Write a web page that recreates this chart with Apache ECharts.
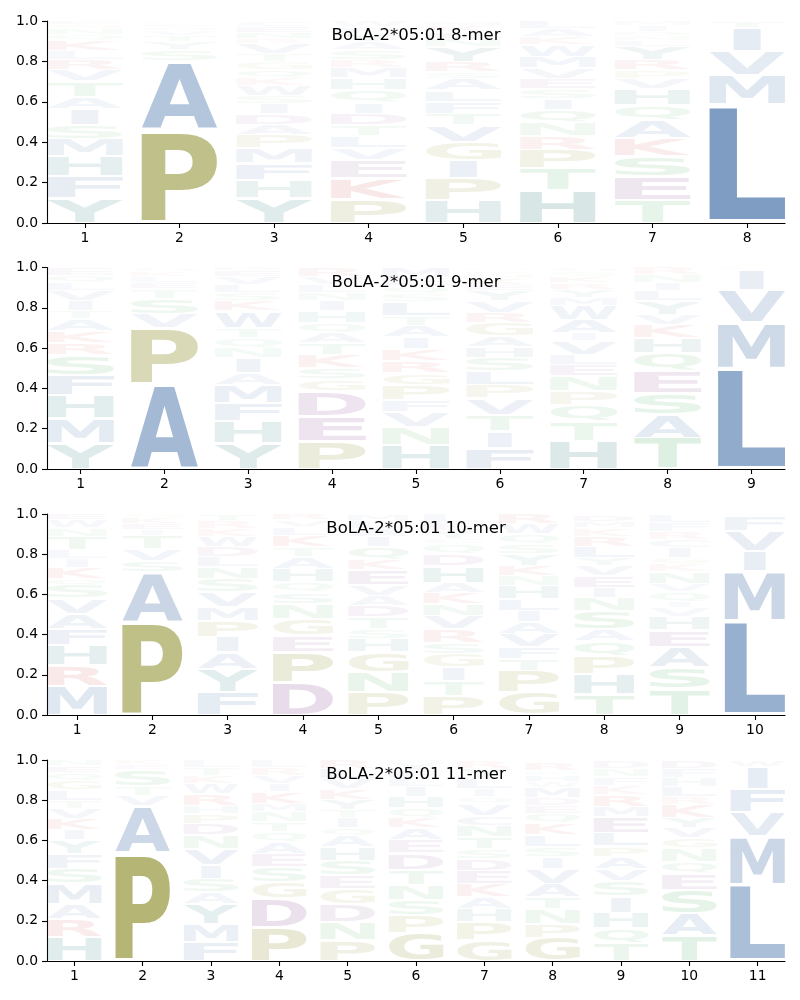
<!DOCTYPE html>
<html><head><meta charset="utf-8">
<script src="https://cdn.jsdelivr.net/npm/echarts@6/dist/echarts.min.js"></script>
<style>html,body{margin:0;padding:0;background:#fff}#c{width:800px;height:1000px}</style>
</head><body><div id="c"></div>
<script>
// ---- data: each column lists [letter, height] from bottom to top ----
const titles = ['BoLA-2*05:01 8-mer', 'BoLA-2*05:01 9-mer', 'BoLA-2*05:01 10-mer', 'BoLA-2*05:01 11-mer'];

const logo8 = [
  [['Y',.124],['F',.107],['H',.1],['M',.085],['S',.07],['I',.08],['A',.058],['T',.077],['V',.058],['R',.05],['L',.045],['K',.05],['Q',.03],['N',.03],['G',.02],['E',.016]],
  [['P',.46],['A',.34],['S',.055],['Y',.04],['T',.03],['V',.025],['G',.02],['E',.015],['K',.015]],
  [['Y',.124],['H',.09],['F',.082],['M',.074],['P',.066],['A',.05],['D',.054],['I',.05],['S',.04],['W',.05],['K',.038],['Q',.04],['G',.04],['T',.04],['V',.05],['R',.025],['N',.03],['E',.03],['C',.027]],
  [['P',.118],['K',.104],['E',.09],['V',.058],['L',.06],['T',.054],['D',.058],['I',.053],['Q',.063],['H',.06],['M',.05],['R',.04],['S',.05],['A',.04],['Y',.04],['F',.032],['W',.03]],
  [['H',.115],['P',.107],['I',.09],['G',.09],['V',.082],['T',.058],['F',.06],['L',.055],['A',.058],['S',.033],['R',.05],['Y',.075],['N',.04],['E',.035],['K',.03],['M',.022]],
  [['H',.16],['T',.11],['P',.094],['R',.066],['N',.066],['Q',.066],['I',.054],['S',.05],['E',.05],['V',.05],['M',.058],['W',.058],['K',.04],['A',.04],['L',.038]],
  [['T',.115],['E',.115],['S',.1],['K',.09],['A',.09],['Q',.074],['H',.082],['V',.05],['P',.04],['R',.05],['Y',.066],['L',.03],['N',.025],['D',.02],['I',.03],['M',.023]],
  [['L',.585],['M',.145],['V',.12],['I',.115],['T',.035]]
];

const logo9 = [
  [['Y',.13],['M',.12],['H',.116],['F',.1],['S',.1],['R',.06],['K',.06],['A',.058],['T',.04],['I',.05],['V',.05],['L',.04],['Q',.035],['E',.041]],
  [['A',.42],['P',.28],['V',.07],['S',.075],['T',.05],['E',.03],['L',.03],['K',.025],['G',.02]],
  [['Y',.13],['H',.108],['F',.09],['M',.09],['A',.058],['I',.075],['N',.05],['Q',.05],['T',.05],['W',.083],['K',.05],['S',.04],['L',.04],['V',.04],['E',.03],['D',.016]],
  [['P',.138],['E',.124],['D',.124],['G',.058],['S',.058],['K',.066],['T',.058],['A',.05],['Q',.05],['H',.058],['I',.05],['N',.04],['L',.04],['V',.04],['R',.047]],
  [['H',.12],['N',.09],['V',.075],['F',.058],['P',.075],['G',.058],['R',.06],['K',.06],['I',.058],['A',.058],['T',.05],['L',.066],['S',.04],['Q',.04],['E',.04],['M',.052]],
  [['F',.104],['I',.083],['T',.083],['V',.083],['P',.066],['L',.066],['S',.066],['H',.054],['A',.054],['G',.066],['R',.05],['V',.06],['Y',.05],['E',.03],['K',.03],['N',.025],['D',.015],['M',.014]],
  [['H',.14],['T',.096],['Q',.083],['P',.066],['N',.075],['E',.058],['L',.05],['V',.066],['I',.04],['A',.066],['W',.07],['M',.04],['Y',.04],['R',.035],['K',.03],['S',.025],['G',.02]],
  [['T',.154],['A',.116],['S',.108],['E',.108],['Q',.09],['H',.075],['K',.066],['V',.05],['Y',.066],['L',.05],['I',.04],['N',.04],['R',.037]],
  [['L',.5],['M',.225],['V',.165],['I',.1],['F',.01]]
];

const logo10 = [
  [['M',.146],['R',.1],['H',.1],['F',.083],['A',.075],['V',.075],['S',.066],['Q',.03],['K',.058],['I',.045],['L',.045],['T',.066],['N',.04],['W',.04],['E',.031]],
  [['P',.465],['A',.245],['S',.058],['V',.058],['T',.066],['I',.03],['E',.03],['K',.03],['G',.018]],
  [['F',.113],['Y',.116],['A',.083],['I',.078],['P',.08],['M',.066],['V',.075],['S',.066],['N',.058],['L',.05],['D',.05],['W',.05],['K',.04],['R',.04],['T',.035]],
  [['D',.163],['P',.15],['E',.083],['G',.083],['N',.075],['S',.058],['Q',.05],['H',.066],['A',.058],['T',.05],['K',.058],['L',.04],['V',.035],['R',.031]],
  [['P',.113],['N',.1],['G',.1],['H',.066],['S',.05],['T',.058],['D',.058],['A',.05],['V',.05],['E',.075],['K',.05],['Q',.066],['I',.05],['A',.04],['L',.04],['M',.034]],
  [['P',.096],['T',.075],['I',.066],['G',.066],['S',.058],['R',.066],['V',.066],['N',.058],['K',.058],['A',.05],['H',.083],['D',.058],['Q',.05],['C',.025],['Y',.04],['E',.04],['L',.045]],
  [['G',.113],['P',.108],['T',.058],['F',.058],['V',.066],['A',.058],['I',.058],['L',.058],['H',.066],['N',.05],['K',.05],['Y',.058],['S',.05],['Q',.05],['W',.05],['R',.05]],
  [['T',.104],['H',.1],['P',.09],['Q',.075],['A',.058],['S',.09],['N',.066],['I',.05],['E',.058],['V',.05],['Y',.04],['L',.058],['R',.05],['K',.04],['M',.034],['D',.034]],
  [['T',.13],['S',.108],['A',.1],['E',.083],['H',.066],['V',.045],['I',.03],['Q',.05],['V',.04],['N',.058],['K',.04],['G',.033],['I',.05],['C',.04],['R',.04],['F',.044],['L',.04]],
  [['L',.47],['M',.245],['I',.1],['V',.1],['F',.075],['W',.01]]
];

const logo11 = [
  [['H',.12],['R',.09],['A',.075],['M',.1],['S',.075],['F',.075],['Y',.066],['I',.05],['K',.058],['V',.05],['T',.04],['L',.05],['G',.05],['Q',.035],['E',.035],['N',.03]],
  [['P',.54],['A',.23],['V',.05],['T',.05],['S',.08],['E',.025],['K',.025]],
  [['F',.096],['M',.09],['Y',.1],['A',.058],['S',.066],['I',.066],['V',.083],['N',.066],['D',.058],['P',.05],['H',.04],['R',.058],['W',.05],['K',.04],['T',.04],['L',.036]],
  [['P',.17],['D',.14],['G',.083],['S',.075],['E',.066],['A',.058],['Q',.05],['T',.05],['N',.05],['M',.04],['K',.058],['I',.04],['V',.04],['R',.04],['L',.036]],
  [['P',.104],['N',.09],['D',.09],['G',.075],['E',.066],['S',.075],['H',.066],['A',.058],['Q',.04],['I',.05],['T',.04],['Y',.05],['K',.05],['V',.05],['L',.05],['R',.046]],
  [['G',.138],['P',.09],['S',.075],['N',.075],['T',.075],['D',.083],['E',.066],['A',.058],['K',.05],['Q',.05],['H',.058],['I',.05],['L',.04],['F',.04],['Y',.036],['M',.016]],
  [['G',.104],['P',.09],['H',.066],['A',.058],['K',.066],['E',.066],['D',.058],['S',.05],['T',.058],['N',.058],['C',.05],['V',.058],['Q',.033],['I',.04],['L',.05],['Y',.05],['R',.04]],
  [['G',.116],['P',.07],['N',.075],['T',.058],['A',.066],['V',.075],['I',.058],['S',.05],['L',.058],['K',.058],['Q',.05],['E',.04],['D',.04],['M',.05],['W',.03],['H',.03],['F',.02],['R',.043]],
  [['T',.088],['Q',.075],['H',.078],['I',.08],['S',.075],['V',.061],['A',.063],['P',.05],['L',.066],['E',.083],['M',.05],['R',.06],['K',.045],['F',.04],['N',.04],['D',.038]],
  [['T',.13],['A',.108],['S',.116],['E',.083],['Q',.058],['N',.066],['G',.05],['V',.05],['Y',.05],['K',.066],['R',.04],['L',.05],['H',.045],['F',.045],['D',.043]],
  [['L',.38],['M',.24],['V',.12],['F',.115],['I',.11],['W',.035]]
];

const logos = [logo8, logo9, logo10, logo11];

// ---- styling ----
const FAMILY = 'DejaVu Sans';
const GLYPH_FONT = 'bold 200px "DejaVu Sans"';
const groupColor = {
  blue: [36, 88, 153], olive: [118, 118, 0], green: [40, 155, 60],
  red: [200, 40, 40], purple: [114, 40, 126], teal: [11, 99, 99]
};
const letterGroup = {
  A:'blue', C:'blue', F:'blue', I:'blue', L:'blue', M:'blue', V:'blue', W:'blue',
  P:'olive', G:'olive', S:'green', T:'green', N:'green', Q:'green',
  K:'red', R:'red', D:'purple', E:'purple', H:'teal', Y:'teal'
};
function letterColor(ch, h) {
  const c = groupColor[letterGroup[ch]];
  const a = Math.min(1, Math.max(0.02, h));
  return 'rgba(' + c[0] + ',' + c[1] + ',' + c[2] + ',' + a.toFixed(3) + ')';
}

// glyph metrics (textAlign left, textBaseline middle)
const mctx = document.createElement('canvas').getContext('2d');
mctx.font = GLYPH_FONT; mctx.textAlign = 'left'; mctx.textBaseline = 'middle';
const metricCache = {};
function metric(ch) {
  if (!metricCache[ch]) {
    const m = mctx.measureText(ch);
    metricCache[ch] = { l: m.actualBoundingBoxLeft, r: m.actualBoundingBoxRight, a: m.actualBoundingBoxAscent, d: m.actualBoundingBoxDescent };
  }
  return metricCache[ch];
}

function buildSeriesData(logo) {
  const data = [], letters = [];
  logo.forEach((col, i) => {
    let y = 0;
    col.forEach(([ch, h]) => { data.push([i + 1, y, y + h]); letters.push(ch); y += h; });
  });
  return { data, letters };
}

function makeRender(letters) {
  return function (params, api) {
    const ch = letters[params.dataIndex];
    const x = api.value(0), y0 = api.value(1), y1 = api.value(2);
    const h = y1 - y0;
    const pad = 0.025 * h + 0.003;
    const tl = api.coord([x - 0.4, y1 - pad]);
    const br = api.coord([x + 0.4, y0 + pad]);
    const bh = br[1] - tl[1];
    if (bh <= 0.2) return null;
    const frac = ch === 'I' ? 0.36 : 1;
    const w = (br[0] - tl[0]) * frac;
    const left = (tl[0] + br[0]) / 2 - w / 2;
    const m = metric(ch);
    const sx = w / (m.l + m.r), sy = bh / (m.a + m.d);
    return {
      type: 'text', x: left + m.l * sx, y: tl[1] + m.a * sy, scaleX: sx, scaleY: sy, silent: true,
      style: { text: ch, x: 0, y: 0, font: GLYPH_FONT, fill: letterColor(ch, h),
        align: 'left', verticalAlign: 'middle', textAlign: 'left', textVerticalAlign: 'middle' }
    };
  };
}

const gridTops = [21, 267.5, 514, 760];
const gridHeights = [202, 201.5, 201, 201];
const titleY = [36, 282.5, 529, 775];
const axisColor = '#000';

const option = {
  animation: false,
  backgroundColor: '#fff',
  title: titles.map((t, k) => ({
    text: t, left: 416, top: titleY[k], textAlign: 'center', textVerticalAlign: 'middle', padding: 0,
    textStyle: { fontFamily: FAMILY, fontSize: 16.5, fontWeight: 'normal', color: '#000' }
  })),
  grid: logos.map((_, k) => ({ left: 47, width: 738, top: gridTops[k], height: gridHeights[k], containLabel: false })),
  xAxis: logos.map((logo, k) => {
    const ticks = logo.map((_, i) => i + 1);
    return {
      gridIndex: k, type: 'value', min: 0.6, max: logo.length + 0.4,
      axisLine: { show: true, onZero: false, lineStyle: { color: axisColor, width: 1.1 } },
      axisTick: { show: true, customValues: ticks, length: 5, lineStyle: { color: axisColor, width: 1.1 } },
      axisLabel: { show: true, customValues: ticks, color: '#000', fontFamily: FAMILY, fontSize: 13.9, margin: 8, formatter: v => String(v) },
      splitLine: { show: false }
    };
  }),
  yAxis: logos.map((_, k) => ({
    gridIndex: k, type: 'value', min: 0, max: 1, interval: 0.2,
    axisLine: { show: true, lineStyle: { color: axisColor, width: 1.1 } },
    axisTick: { show: true, length: 5, lineStyle: { color: axisColor, width: 1.1 } },
    axisLabel: { color: '#000', fontFamily: FAMILY, fontSize: 13.9, margin: 9, formatter: v => v.toFixed(1) },
    splitLine: { show: false }
  })),
  series: logos.map((logo, k) => {
    const built = buildSeriesData(logo);
    return {
      type: 'custom', xAxisIndex: k, yAxisIndex: k, silent: true, clip: false,
      renderItem: makeRender(built.letters), data: built.data
    };
  })
};

const chart = echarts.init(document.getElementById('c'), null, { renderer: 'canvas', width: 800, height: 1000 });
chart.setOption(option);
</script>
</body></html>
